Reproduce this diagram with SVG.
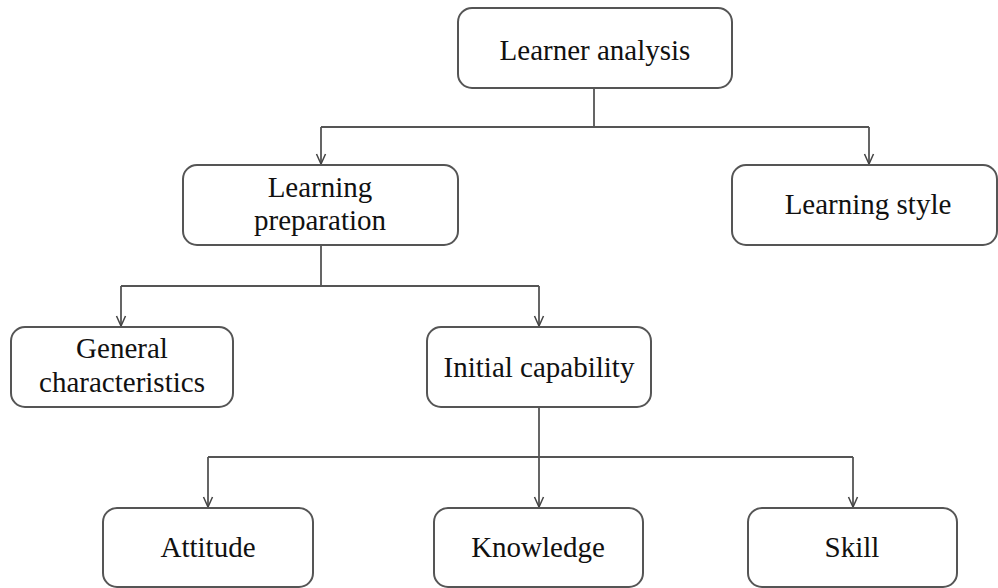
<svg xmlns="http://www.w3.org/2000/svg" width="998" height="588" viewBox="0 0 998 588">
<defs>
<marker id="arr" viewBox="0 0 12 12" refX="11" refY="6" markerWidth="12" markerHeight="12" markerUnits="userSpaceOnUse" orient="auto">
<path d="M1,1.5 L11,6 L1,10.5" fill="none" stroke="#444" stroke-width="1.5"/>
</marker>
</defs>
<style>
.box{fill:#fff;stroke:#555;stroke-width:2}
.t{font-family:"Liberation Serif","Times New Roman",serif;font-size:29px;fill:#111;text-anchor:middle}
.c{fill:none;stroke:#555;stroke-width:1.8}
</style>
<rect width="998" height="588" fill="#fff"/>
<g id="connectors">
<path class="c" d="M594,88 V127 M321,127 H869"/>
<path class="c" d="M321,127 V164" marker-end="url(#arr)"/>
<path class="c" d="M869,127 V164" marker-end="url(#arr)"/>
<path class="c" d="M321,245 V286 M121,286 H539"/>
<path class="c" d="M121,286 V326" marker-end="url(#arr)"/>
<path class="c" d="M539,286 V326" marker-end="url(#arr)"/>
<path class="c" d="M539,407 V457 M208,457 H853"/>
<path class="c" d="M208,457 V507" marker-end="url(#arr)"/>
<path class="c" d="M539,457 V507" marker-end="url(#arr)"/>
<path class="c" d="M853,457 V507" marker-end="url(#arr)"/>
</g>
<g id="learner-analysis">
<rect class="box" x="458" y="8" width="274" height="80" rx="14"/>
<text class="t" x="595" y="60">Learner analysis</text>
</g>
<g id="learning-preparation">
<rect class="box" x="183" y="165" width="275" height="80" rx="14"/>
<text class="t" x="320" y="197">Learning</text>
<text class="t" x="320" y="230">preparation</text>
</g>
<g id="learning-style">
<rect class="box" x="732" y="165" width="265" height="80" rx="14"/>
<text class="t" x="868" y="214">Learning style</text>
</g>
<g id="general-characteristics">
<rect class="box" x="11" y="327" width="222" height="80" rx="14"/>
<text class="t" x="122" y="358">General</text>
<text class="t" x="122" y="392">characteristics</text>
</g>
<g id="initial-capability">
<rect class="box" x="427" y="327" width="224" height="80" rx="14"/>
<text class="t" x="539" y="377">Initial capability</text>
</g>
<g id="attitude">
<rect class="box" x="103" y="508" width="210" height="79" rx="14"/>
<text class="t" x="208" y="557">Attitude</text>
</g>
<g id="knowledge">
<rect class="box" x="434" y="508" width="209" height="79" rx="14"/>
<text class="t" x="538" y="557">Knowledge</text>
</g>
<g id="skill">
<rect class="box" x="748" y="508" width="209" height="79" rx="14"/>
<text class="t" x="852" y="557">Skill</text>
</g>
</svg>
